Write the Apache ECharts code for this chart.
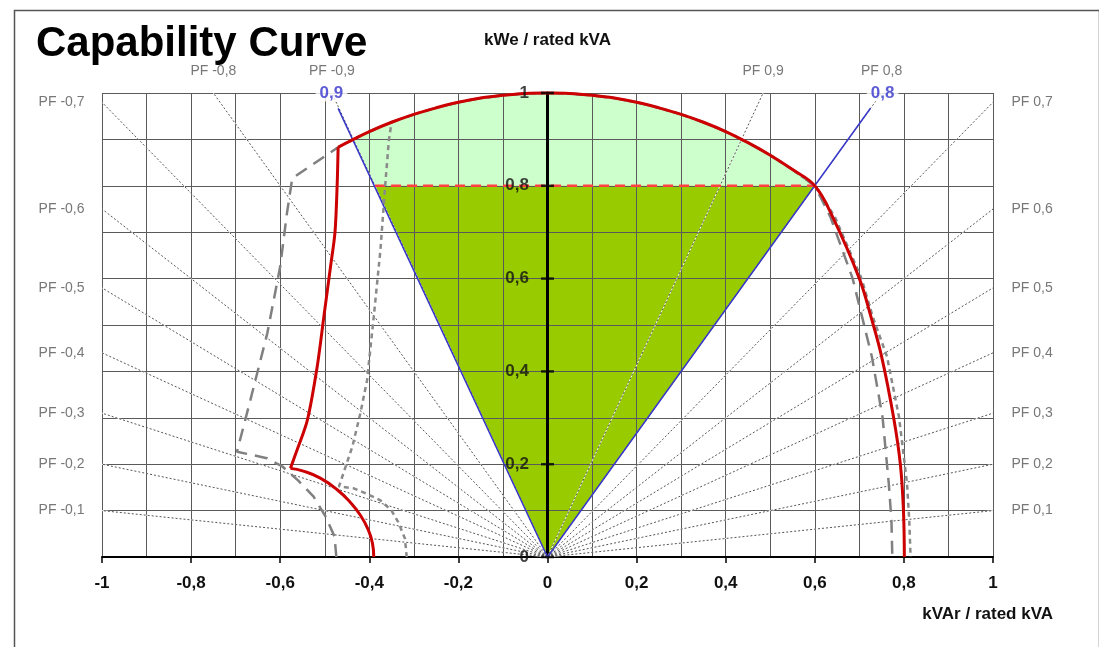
<!DOCTYPE html>
<html><head><meta charset="utf-8">
<script src="https://cdn.jsdelivr.net/npm/echarts@6/dist/echarts.min.js"></script>
<style>html,body{margin:0;padding:0;background:#fff}#c{width:1099px;height:647px}</style>
</head><body><div id="c"></div>
<script>
// ---- data ----
const pfLabelsLeft = ['PF -0,1','PF -0,2','PF -0,3','PF -0,4','PF -0,5','PF -0,6','PF -0,7'];
const pfEndsLeft = [[-1,0.10],[-1,0.20],[-1,0.31],[-1,0.44],[-1,0.58],[-1,0.75],[-1,0.98]];
const pfLabelsRight = ['PF 0,1','PF 0,2','PF 0,3','PF 0,4','PF 0,5','PF 0,6','PF 0,7'];
const pfEndsRight = [[1,0.10],[1,0.20],[1,0.31],[1,0.44],[1,0.58],[1,0.75],[1,0.98]];
const pfLabelsTop = ['PF -0,8','PF -0,9','PF 0,9','PF 0,8'];
const pfEndsTop = [[-0.75,1],[-0.484,1],[0.484,1],[0.75,1]];
const origin = [0,0];

const circleArc = [[-0.47,0.883],[-0.436,0.9],[-0.4,0.917],[-0.35,0.937],[-0.3,0.954],[-0.25,0.968],[-0.2,0.98],[-0.15,0.989],[-0.1,0.995],[-0.05,0.999],[0,1],[0.05,0.999],[0.1,0.995],[0.15,0.989],[0.2,0.98],[0.25,0.968],[0.3,0.954],[0.35,0.937],[0.4,0.917],[0.45,0.893],[0.5,0.866],[0.55,0.835],[0.6,0.8]];

const redBottomLeft = [[-0.39,0],[-0.393,0.03],[-0.403,0.06],[-0.42,0.09],[-0.443,0.118],[-0.472,0.145],[-0.51,0.17],[-0.548,0.185],[-0.577,0.191]];
const redLeft = [[-0.577,0.191],[-0.562,0.231],[-0.539,0.295],[-0.517,0.41],[-0.502,0.518],[-0.487,0.626],[-0.477,0.7],[-0.472,0.806],[-0.47,0.883]];
const redRight = [[0.6,0.8],[0.64,0.733],[0.7,0.6],[0.726,0.518],[0.75,0.432],[0.777,0.3],[0.792,0.2],[0.799,0.1],[0.801,0]];

const greyLongLeft = [[-0.474,0],[-0.478,0.044],[-0.498,0.087],[-0.525,0.13],[-0.56,0.165],[-0.595,0.195],[-0.63,0.213],[-0.697,0.227],[-0.667,0.338],[-0.629,0.482],[-0.6,0.626],[-0.585,0.74],[-0.573,0.816],[-0.47,0.883]];
const greyLongRight = [[0.6,0.8],[0.635,0.733],[0.685,0.6],[0.706,0.518],[0.728,0.432],[0.752,0.302],[0.766,0.159],[0.772,0.08],[0.774,0]];
const greyShortLeft = [[-0.316,0],[-0.32,0.04],[-0.335,0.075],[-0.35,0.1],[-0.375,0.122],[-0.405,0.136],[-0.435,0.148],[-0.468,0.152],[-0.438,0.238],[-0.42,0.31],[-0.405,0.381],[-0.39,0.518],[-0.375,0.662],[-0.364,0.805],[-0.356,0.899],[-0.35,0.937]];
const greyShortRight = [[0.6,0.8],[0.645,0.733],[0.705,0.6],[0.73,0.518],[0.762,0.432],[0.789,0.302],[0.807,0.159],[0.812,0.08],[0.815,0]];

const bluePF09 = [[0,0],[-0.47,0.967]];
const bluePF08 = [[0,0],[0.725,0.967]];
const blueLabels = ['0,9','0,8'];
const blueLabelPos = [[-0.485,1],[0.752,1]];
const limitLine = [[-0.387,0.8],[0.6,0.8]];
const darkGreenArea = [[0,0],[-0.387,0.8],[0.6,0.8]];
const lightGreenCorner = [[-0.387,0.8]];
const yTickValues = [0,0.2,0.4,0.6,0.8,1];
const yTickLabels = ['0','0,2','0,4','0,6','0,8','1'];

// ---- chart ----
const F = '"Liberation Sans", Arial, sans-serif';
const chart = echarts.init(document.getElementById('c'), null, {renderer:'canvas'});
const fmt = v => String(+(+v).toFixed(1)).replace('.', ',');
const lightGreenArea = lightGreenCorner.concat(circleArc.slice(1));
const greyLongPath = greyLongLeft.concat(circleArc.slice(1), greyLongRight.slice(1));
const greyShortPath = greyShortLeft.concat(circleArc.filter(p => p[0] > -0.35), greyShortRight.slice(1));
const redArcRight = circleArc.concat(redRight.slice(1));
const pfAll = pfEndsLeft.concat(pfEndsRight, pfEndsTop).map(e => ({coords:[origin, e]}));

function polygon(points, color){
  return {
    type:'custom', z:1, silent:true, data:[[0,0]],
    renderItem:(params, api) => ({
      type:'polygon',
      shape:{points: points.map(p => api.coord(p))},
      style:{fill:color}
    })
  };
}
function labelSeries(ends, names, pos, dist, style){
  return {
    type:'scatter', z:8, silent:true, clip:false, symbolSize:1,
    itemStyle:{color:'rgba(0,0,0,0)'},
    data: ends.map((p,i) => ({name:names[i], value:p})),
    label:Object.assign({show:true, position:pos, distance:dist, formatter:'{b}',
      fontFamily:F, fontSize:14, color:'#555'}, style||{})
  };
}
function lineSeries(data, color, width, type, z, smooth){
  return {type:'line', data, symbol:'none', smooth:smooth||false, z, silent:true, clip:false,
    lineStyle:{color, width, type}};
}

const gridLine = {show:true, lineStyle:{color:'#5a5a5a', width:1}};
chart.setOption({
  animation:false,
  backgroundColor:'#fff',
  title:{text:'Capability Curve', left:31, top:18,
    textStyle:{fontFamily:F, fontSize:42, fontWeight:'bold', color:'#000'}},
  grid:{left:102, right:106, top:93, bottom:90, outerBoundsMode:'none'},
  xAxis:{type:'value', min:-1, max:1, interval:0.2, z:3,
    axisLine:{show:true, onZero:true, lineStyle:{color:'#000', width:2}},
    axisTick:{show:true, length:6, lineStyle:{color:'#000', width:1.5}},
    axisLabel:{formatter:fmt, margin:18, fontFamily:F, fontSize:17, fontWeight:'bold', color:'#111'},
    splitLine:gridLine,
    minorTick:{show:false, splitNumber:2},
    minorSplitLine:gridLine},
  yAxis:{type:'value', min:0, max:1, interval:0.2, z:3,
    name:'kWe / rated kVA', nameLocation:'end', nameGap:44,
    nameTextStyle:{fontFamily:F, fontSize:17, fontWeight:'bold', color:'#111'},
    axisLine:{show:true, onZero:true, lineStyle:{color:'#000', width:3}},
    axisTick:{show:false},
    axisLabel:{show:false},
    splitLine:gridLine,
    minorTick:{show:false, splitNumber:2},
    minorSplitLine:gridLine},
  graphic:[
    {type:'rect', left:12, top:8, z:-10, shape:{width:1085, height:700},
      style:{fill:'none', stroke:'#555', lineWidth:1.5}},
    {type:'text', right:46, top:606, style:{text:'kVAr / rated kVA', font:'bold 17px '+F, fill:'#111'}}
  ],
  series:[
    polygon(lightGreenArea, '#ccffcc'),
    polygon(darkGreenArea, '#99cc00'),
    {type:'lines', coordinateSystem:'cartesian2d', z:4, silent:true, data:pfAll,
      lineStyle:{color:'#ffffff', width:1, opacity:0.9}},
    {type:'lines', coordinateSystem:'cartesian2d', z:4, silent:true, data:pfAll,
      lineStyle:{color:'#444', width:1, type:[2,2], opacity:0.9}},
    lineSeries(bluePF09, '#3636c8', 1.5, 'solid', 5),
    lineSeries(bluePF08, '#3636c8', 1.5, 'solid', 5),
    lineSeries(limitLine, '#ff4040', 2.5, [10,6], 6),
    lineSeries(greyLongPath, '#808080', 2.5, [13,8], 6),
    lineSeries(greyShortPath, '#8a8a8a', 2.5, [5,4], 6),
    lineSeries(redBottomLeft, '#cc0000', 3, 'solid', 7, 0.5),
    lineSeries(redLeft, '#cc0000', 3, 'solid', 7, 0.3),
    lineSeries(redArcRight, '#cc0000', 3, 'solid', 7, 0.4),
    labelSeries(pfEndsLeft, pfLabelsLeft, 'left', 17),
    labelSeries(pfEndsRight, pfLabelsRight, 'right', 18),
    labelSeries(pfEndsTop, pfLabelsTop, 'top', 14),
    labelSeries(blueLabelPos, blueLabels, 'inside', 0,
      {fontSize:17, fontWeight:'bold', color:'#3333cc', backgroundColor:'#fff', padding:[0,4]}),
    labelSeries(yTickValues.map(v => [0, v]), yTickLabels, 'left', 18,
      {fontSize:17, fontWeight:'bold', color:'#111'}),
    {type:'scatter', z:8, silent:true, symbol:'rect', symbolSize:[13,2.5],
      itemStyle:{color:'#000'}, data:yTickValues.map(v => [0, v])}
  ]
});
</script></body></html>
